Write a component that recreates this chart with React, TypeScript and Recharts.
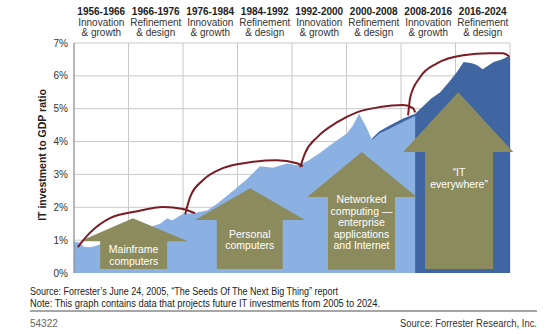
import * as React from "react";
import {
  ComposedChart,
  Area,
  Line,
  XAxis,
  YAxis,
  CartesianGrid,
  ReferenceArea,
  Label,
} from "recharts";

// column headers (one per period, equal width columns)
const periods = [
  "1956-1966",
  "1966-1976",
  "1976-1984",
  "1984-1992",
  "1992-2000",
  "2000-2008",
  "2008-2016",
  "2016-2024",
];
const phases = [
  ["Innovation", "& growth"],
  ["Refinement", "& design"],
];
const colBounds = [0, 1, 2, 3, 4, 5, 6, 7, 8];
const colCenters = [0.5, 1.5, 2.5, 3.5, 4.5, 5.5, 6.5, 7.5];
const yTicks = [0, 1, 2, 3, 4, 5, 6, 7];

// [column position, IT investment / GDP %]
const historic: [number, number][] = [
  [0, 0.95], [0.1, 0.93], [0.18, 0.8], [0.3, 0.78], [0.42, 0.84], [0.6, 0.95],
  [0.9, 1.05], [1.2, 1.2], [1.39, 1.35], [1.45, 1.43], [1.58, 1.5], [1.71, 1.67],
  [1.8, 1.6], [2.0, 1.8], [2.18, 1.82], [2.44, 1.9], [2.62, 2.1], [2.92, 2.5],
  [3.17, 2.85], [3.41, 3.25], [3.65, 3.2], [3.91, 3.33], [4.09, 3.28], [4.28, 3.4],
  [4.51, 3.65], [4.75, 3.95], [5.01, 4.25], [5.12, 4.5], [5.23, 4.85], [5.36, 4.45],
  [5.47, 4.05], [5.61, 4.25], [5.8, 4.4], [6.04, 4.6], [6.26, 4.78],
];
const projected: [number, number][] = [
  [5.47, 4.1], [5.61, 4.32], [5.8, 4.5], [6.04, 4.7], [6.26, 4.85], [6.42, 5.1],
  [6.55, 5.3], [6.72, 5.5], [6.9, 5.85], [7.04, 6.15], [7.15, 6.42], [7.3, 6.38],
  [7.39, 6.33], [7.5, 6.2], [7.7, 6.42], [7.85, 6.5], [8.0, 6.62],
];

// wave arcs spanning two periods each
const arc1: [number, number][] = [
  [0.07, 0.79], [0.29, 1.22], [0.66, 1.67], [1.16, 1.88], [1.63, 2.01], [2.0, 1.95], [2.22, 1.82],
];
const arc2: [number, number][] = [
  [2.04, 1.79], [2.13, 2.31], [2.37, 2.83], [2.73, 3.19], [3.23, 3.37], [3.72, 3.43], [4.09, 3.34], [4.2, 3.25],
];
const arc3: [number, number][] = [
  [4.15, 3.22], [4.24, 3.65], [4.46, 4.13], [4.83, 4.59], [5.19, 4.89], [5.61, 5.05], [6.04, 5.11], [6.22, 5.02], [6.26, 4.89],
];
const arc4: [number, number][] = [
  [6.13, 4.8], [6.17, 5.35], [6.35, 5.96], [6.66, 6.38], [7.14, 6.63], [7.63, 6.69], [7.87, 6.69], [7.98, 6.6],
];

interface BlockArrow {
  label: string[];
  tip: [number, number];
  headBase: number;
  head: [number, number];
  body: [number, number];
  bottom: number;
  labelAt: number;
}

const arrows: BlockArrow[] = [
  { label: ["Mainframe", "computers"], tip: [1.08, 1.67], headBase: 0.97, head: [0.11, 2.09], body: [0.48, 1.71], bottom: 0.12, labelAt: 0.73 },
  { label: ["Personal", "computers"], tip: [3.23, 2.58], headBase: 1.61, head: [2.22, 4.24], body: [2.62, 3.83], bottom: 0.12, labelAt: 1.19 },
  { label: ["Networked", "computing —", "enterprise", "applications", "and Internet"], tip: [5.28, 3.68], headBase: 2.31, head: [4.28, 6.29], body: [4.66, 5.89], bottom: 0.1, labelAt: 2.25 },
  { label: ["“IT", "everywhere”"], tip: [7.05, 5.5], headBase: 3.68, head: [6.04, 8.06], body: [6.44, 7.69], bottom: 0.12, labelAt: 3.07 },
];

const buildTable = () => {
  const rows = new Map<number, any>();
  const add = (key: string, pts: [number, number][]) =>
    pts.forEach(([t, v]) => {
      const r = rows.get(t) ?? { t };
      r[key] = v;
      rows.set(t, r);
    });
  add("historic", historic);
  add("projected", projected);
  add("arc1", arc1);
  add("arc2", arc2);
  add("arc3", arc3);
  add("arc4", arc4);
  return [...rows.values()].sort((a, b) => a.t - b.t);
};

const data = buildTable();

const FONT = "'Liberation Sans', Arial, sans-serif";

const HeaderTick = (props: any) => {
  const { x, y, payload } = props;
  const i = Math.floor(payload.value);
  const ph = phases[i % 2];
  return (
    <g fontFamily={FONT} textAnchor="middle">
      <text x={x} y={y - 28} fontSize={10} fontWeight="bold" fill="#222">
        {periods[i]}
      </text>
      <text x={x} y={y - 17} fontSize={10} fill="#333">
        {ph[0]}
      </text>
      <text x={x} y={y - 7} fontSize={10} fill="#333">
        {ph[1]}
      </text>
    </g>
  );
};

const arrowShape = (a: BlockArrow) => (p: any) => {
  const { x, y, width, height } = p;
  const sx = (t: number) => x + (width * (t - a.head[0])) / (a.head[1] - a.head[0]);
  const sy = (v: number) => y + (height * (a.tip[1] - v)) / (a.tip[1] - a.bottom);
  const hb = sy(a.headBase);
  const bl = sx(a.body[0]);
  const br = sx(a.body[1]);
  const bottom = y + height;
  const pts = [
    [sx(a.tip[0]), y],
    [x + width, hb],
    [br, hb],
    [br, bottom],
    [bl, bottom],
    [bl, hb],
    [x, hb],
  ]
    .map((q) => q.join(","))
    .join(" ");
  const cx = (bl + br) / 2;
  const ly = sy(a.labelAt);
  return (
    <g>
      <polygon points={pts} fill="#8c8b5d" />
      {a.label.map((s, k) => (
        <text
          key={k}
          x={cx}
          y={ly + k * 11.5 + 4}
          textAnchor="middle"
          fontSize={10.5}
          fontFamily={FONT}
          fill="#fff"
        >
          {s}
        </text>
      ))}
    </g>
  );
};

const YLabel = (props: any) => {
  const { viewBox } = props;
  const cx = viewBox.x + 8;
  const cy = viewBox.y + viewBox.height / 2 - 3;
  return (
    <text
      x={cx}
      y={cy}
      transform={`rotate(-90 ${cx} ${cy})`}
      textAnchor="middle"
      dominantBaseline="central"
      fontSize={10.5}
      fontWeight="bold"
      fontFamily={FONT}
      fill="#222"
    >
      IT investment to GDP ratio
    </text>
  );
};

const arcKeys = ["arc1", "arc2", "arc3", "arc4"];

export default function App() {
  return (
    <div
      style={{
        position: "absolute",
        left: 0,
        top: 0,
        width: 552,
        height: 334,
        background: "#fff",
        fontFamily: FONT,
      }}
    >
      <ComposedChart
        width={552}
        height={280}
        data={data}
        margin={{ top: 3, right: 42, left: 34, bottom: 7 }}
      >
        <CartesianGrid
          stroke="#c8c8c8"
          verticalValues={colBounds}
          horizontalValues={yTicks}
        />
        <XAxis
          dataKey="t"
          type="number"
          orientation="top"
          domain={[0, 8]}
          ticks={colCenters}
          height={40}
          tickLine={false}
          axisLine={false}
          tickSize={0}
          tickMargin={0}
          tick={<HeaderTick />}
          interval={0}
        />
        <YAxis
          domain={[0, 7]}
          ticks={yTicks}
          width={40}
          tickFormatter={(v: number) => `${v}%`}
          tickLine={false}
          tickSize={0}
          tickMargin={6}
          axisLine={{ stroke: "#8a8a8a" }}
          tick={{ fontSize: 10, fill: "#333", fontFamily: FONT }}
        >
          <Label content={<YLabel />} />
        </YAxis>
        <Area
          dataKey="projected"
          type="linear"
          fill="#4066a2"
          fillOpacity={1}
          stroke="none"
          connectNulls
          isAnimationActive={false}
        />
        <Area
          dataKey="historic"
          type="linear"
          fill="#8bb0e2"
          fillOpacity={1}
          stroke="none"
          connectNulls
          isAnimationActive={false}
        />
        {arrows.map((a, i) => (
          <ReferenceArea
            key={i}
            x1={a.head[0]}
            x2={a.head[1]}
            y1={a.bottom}
            y2={a.tip[1]}
            ifOverflow="visible"
            shape={arrowShape(a)}
          />
        ))}
        {arcKeys.map((k) => (
          <Line
            key={k}
            dataKey={k}
            type="monotone"
            stroke="#7a1c24"
            strokeWidth={2}
            dot={false}
            activeDot={false}
            connectNulls
            isAnimationActive={false}
          />
        ))}
      </ComposedChart>
      <svg
        width={552}
        height={54}
        style={{ position: "absolute", left: 0, top: 280 }}
        fontFamily={FONT}
      >
        <text x={30} y={14.5} fontSize={10} fill="#222" textLength={308} lengthAdjust="spacingAndGlyphs">
          Source: Forrester’s June 24, 2005, “The Seeds Of The Next Big Thing” report
        </text>
        <text x={30} y={26.5} fontSize={10} fill="#222" textLength={350} lengthAdjust="spacingAndGlyphs">
          Note: This graph contains data that projects future IT investments from 2005 to 2024.
        </text>
        <line x1={30} x2={537} y1={31} y2={31} stroke="#888" strokeWidth={1.5} />
        <text x={30} y={46.5} fontSize={10} fill="#666">
          54322
        </text>
        <text x={537} y={46.5} fontSize={10} fill="#333" textAnchor="end" textLength={137} lengthAdjust="spacingAndGlyphs">
          Source: Forrester Research, Inc.
        </text>
      </svg>
    </div>
  );
}
